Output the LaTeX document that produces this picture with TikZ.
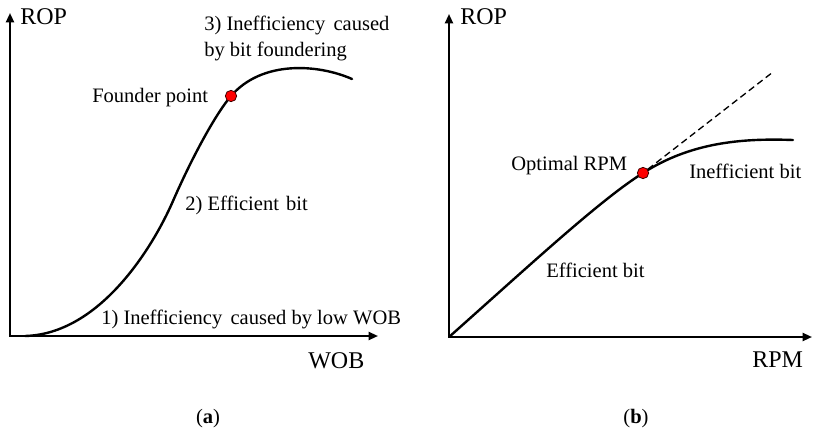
\documentclass[tikz,border=0pt]{standalone}
\usepackage{fontspec}
\setmainfont{Liberation Serif}
\usetikzlibrary{arrows.meta}

\begin{document}
\begin{tikzpicture}[x=0.75pt,y=-0.75pt,
  axis/.style={line width=1.5pt, {Triangle[length=7pt,width=6pt]}-{Triangle[length=7pt,width=6pt]}},
  curve/.style={line width=1.8pt, line cap=round, line join=round},
  guide/.style={line width=1pt, dash pattern=on 5pt off 3pt},
  lbl/.style={font=\fontsize{15.4}{19.5}\selectfont, inner sep=0pt, anchor=base west},
  axlbl/.style={font=\fontsize{18}{20}\selectfont, inner sep=0pt, anchor=base west},
  caption/.style={font=\fontsize{15.4}{19}\selectfont, inner sep=0pt, anchor=base},
  mark point/.style={circle, fill=red, draw=black!75!red, line width=0.6pt,
    minimum size=8.5pt, inner sep=0pt}]
  \useasboundingbox (0,0) rectangle (813,436);

  % ---------- (a) ROP versus WOB ----------
  \coordinate (oa) at (10,336);
  \coordinate (xa) at (378,336);
  \coordinate (ya) at (10,13);
  \draw[axis] (ya) -- (oa) -- (xa);
  \node[axlbl] (ropa) at (20,24) {ROP};
  \node[axlbl] (wob) at (308,368) {WOB};

  % S-shaped response: slow start, steep efficient section, flattening top
  \coordinate (a0) at (25,336);
  \coordinate (a1) at (173,201);
  \coordinate (a2) at (231,96);
  \coordinate (a3) at (352,79);
  \draw[curve] (a0) .. controls (100,334) and (153,247) .. (a1)
                    .. controls (190,162) and (214,116) .. (a2)
                    .. controls (262,60) and (318,64) .. (a3);
  \node[mark point] (founder) at (a2) {};

  \node[lbl] (founderlbl) at (92,102) {Founder point};
  \node[lbl, align=left, anchor=north west] (stage3) at (204,16)
    {3) Inefficiency\hspace{0.15em} caused\\by bit foundering};
  \node[lbl] (stage2) at (185,210) {2) Efficient\hspace{0.1em} bit};
  \node[lbl] (stage1) at (101,324) {1) Inefficiency\hspace{0.15em} caused by low WOB};
  \node[caption] (capa) at (208,423) {(\textbf{a})};

  % ---------- (b) ROP versus RPM ----------
  \coordinate (ob) at (449,337);
  \coordinate (xb) at (812,337);
  \coordinate (yb) at (449,14);
  \draw[axis] (yb) -- (ob) -- (xb);
  \node[axlbl] (ropb) at (460,24) {ROP};
  \node[axlbl] (rpm) at (752,367) {RPM};

  \coordinate (b1) at (643,173);
  \coordinate (b2) at (793,140);
  \draw[curve] (ob) .. controls (530,265) and (600,200) .. (b1)
                    .. controls (690,143) and (740,138) .. (b2);
  \node[mark point] (opt) at (b1) {};
  \coordinate (lineend) at (773,72);
  \draw[guide] (opt) -- (lineend);

  \node[lbl] (optlbl) at (511,170) {Optimal RPM};
  \node[lbl] (ineff) at (689,178) {Inefficient bit};
  \node[lbl] (eff) at (546,277) {Efficient bit};
  \node[caption] (capb) at (636,423) {(\textbf{b})};
\end{tikzpicture}
\end{document}
